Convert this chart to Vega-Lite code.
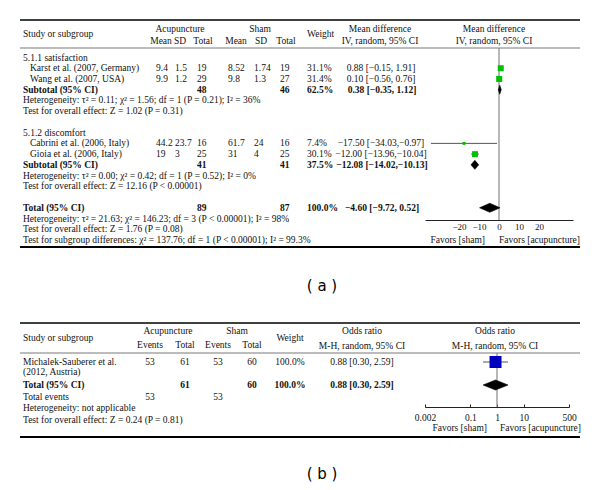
{
"$schema":"https://vega.github.io/schema/vega-lite/v6.json",
"width":600,"height":490,"autosize":"none","padding":0,"background":"white",
"config":{"view":{"stroke":null},"text":{"font":"Liberation Serif","fontSize":9.5,"color":"#111","baseline":"middle"},"axis":{"labelFont":"Liberation Serif","labelFontSize":9.5,"labelColor":"#111","grid":false}},
"datasets":{
"one":[{}],
"a_studies":[
{"line":2,"name":"Karst et al. (2007, Germany)","aMean":"9.4","aSD":"1.5","aN":"19","sMean":"8.52","sSD":"1.74","sN":"19","wt":"31.1%","ci":"0.88 [−0.15, 1.91]","w":31.1,"est":0.88,"lo":-0.15,"hi":1.91},
{"line":3,"name":"Wang et al. (2007, USA)","aMean":"9.9","aSD":"1.2","aN":"29","sMean":"9.8","sSD":"1.3","sN":"27","wt":"31.4%","ci":"0.10 [−0.56, 0.76]","w":31.4,"est":0.10,"lo":-0.56,"hi":0.76},
{"line":9,"name":"Cabrini et al. (2006, Italy)","aMean":"44.2","aSD":"23.7","aN":"16","sMean":"61.7","sSD":"24","sN":"16","wt":"7.4%","ci":"−17.50 [−34.03,−0.97]","w":7.4,"est":-17.5,"lo":-34.03,"hi":-0.97},
{"line":10,"name":"Gioia et al. (2006, Italy)","aMean":"19","aSD":"3","aN":"25","sMean":"31","sSD":"4","sN":"25","wt":"30.1%","ci":"−12.00 [−13.96,−10.04]","w":30.1,"est":-12,"lo":-13.96,"hi":-10.04}
],
"a_pooled":[
{"line":4,"name":"Subtotal (95% CI)","aN":"48","sN":"46","wt":"62.5%","ci":"0.38 [−0.35, 1.12]","est":0.38,"lo":-0.35,"hi":1.12},
{"line":11,"name":"Subtotal (95% CI)","aN":"41","sN":"41","wt":"37.5%","ci":"−12.08 [−14.02,−10.13]","est":-12.08,"lo":-14.02,"hi":-10.13},
{"line":15,"name":"Total (95% CI)","aN":"89","sN":"87","wt":"100.0%","ci":"−4.60 [−9.72, 0.52]","est":-4.6,"lo":-9.72,"hi":0.52}
],
"a_notes":[
{"line":1,"text":"5.1.1 satisfaction"},
{"line":5,"text":"Heterogeneity: τ² = 0.11; χ² = 1.56; df = 1 (P = 0.21); I² = 36%"},
{"line":6,"text":"Test for overall effect: Z = 1.02 (P = 0.31)"},
{"line":8,"text":"5.1.2 discomfort"},
{"line":12,"text":"Heterogeneity: τ² = 0.00; χ² = 0.42; df = 1 (P = 0.52); I² = 0%"},
{"line":13,"text":"Test for overall effect: Z = 12.16 (P < 0.00001)"},
{"line":16,"text":"Heterogeneity: τ² = 21.63; χ² = 146.23; df = 3 (P < 0.00001); I² = 98%"},
{"line":17,"text":"Test for overall effect: Z = 1.76 (P = 0.08)"},
{"line":18,"text":"Test for subgroup differences: χ² = 137.76; df = 1 (P < 0.00001); I² = 99.3%"}
],
"b_study":[{"line":1,"name":"Michalek-Sauberer et al.","name2":"(2012, Austria)","aE":"53","aN":"61","sE":"53","sN":"60","wt":"100.0%","ci":"0.88 [0.30, 2.59]","w":100,"est":0.88,"lo":0.30,"hi":2.59}],
"b_total":[{"line":3,"name":"Total (95% CI)","aN":"61","sN":"60","wt":"100.0%","ci":"0.88 [0.30, 2.59]","est":0.88,"lo":0.30,"hi":2.59}],
"b_events":[{"line":4,"label":"Total events","aE":"53","sE":"53"}],
"b_notes":[
{"line":5,"text":"Heterogeneity: not applicable"},
{"line":6,"text":"Test for overall effect: Z = 0.24 (P = 0.81)"}
]
},
"resolve":{"scale":{"x":"independent","y":"independent","size":"independent"},"axis":{"x":"independent"}},
"layer":[
{
"encoding":{"y":{"field":"line","type":"quantitative","scale":{"domain":[1,18],"range":[57.5,240],"zero":false,"nice":false},"axis":null}},
"layer":[
{"data":{"name":"one"},"mark":{"type":"rule","color":"#000","strokeWidth":1.5},"encoding":{"x":{"value":20},"x2":{"value":580},"y":{"value":20}}},
{"data":{"name":"one"},"mark":{"type":"rule","color":"#555","strokeWidth":0.8},"encoding":{"x":{"value":20},"x2":{"value":580},"y":{"value":48}}},
{"data":{"name":"one"},"mark":{"type":"rule","color":"#000","strokeWidth":2},"encoding":{"x":{"value":20},"x2":{"value":580},"y":{"value":247}}},
{"data":{"name":"one"},"mark":{"type":"text","align":"left","text":"Study or subgroup"},"encoding":{"x":{"value":23},"y":{"value":34}}},
{"data":{"name":"one"},"mark":{"type":"text","align":"center","text":"Acupuncture"},"encoding":{"x":{"value":180},"y":{"value":29}}},
{"data":{"name":"one"},"mark":{"type":"text","align":"center","text":"Sham"},"encoding":{"x":{"value":260},"y":{"value":29}}},
{"data":{"name":"one"},"mark":{"type":"text","align":"center","text":"Mean"},"encoding":{"x":{"value":161},"y":{"value":41}}},
{"data":{"name":"one"},"mark":{"type":"text","align":"center","text":"SD"},"encoding":{"x":{"value":180},"y":{"value":41}}},
{"data":{"name":"one"},"mark":{"type":"text","align":"center","text":"Total"},"encoding":{"x":{"value":203},"y":{"value":41}}},
{"data":{"name":"one"},"mark":{"type":"text","align":"center","text":"Mean"},"encoding":{"x":{"value":236},"y":{"value":41}}},
{"data":{"name":"one"},"mark":{"type":"text","align":"center","text":"SD"},"encoding":{"x":{"value":261},"y":{"value":41}}},
{"data":{"name":"one"},"mark":{"type":"text","align":"center","text":"Total"},"encoding":{"x":{"value":286},"y":{"value":41}}},
{"data":{"name":"one"},"mark":{"type":"text","align":"left","text":"Weight"},"encoding":{"x":{"value":307},"y":{"value":34}}},
{"data":{"name":"one"},"mark":{"type":"text","align":"center","text":"Mean difference"},"encoding":{"x":{"value":380},"y":{"value":29}}},
{"data":{"name":"one"},"mark":{"type":"text","align":"center","text":"IV, random, 95% CI"},"encoding":{"x":{"value":380},"y":{"value":41}}},
{"data":{"name":"one"},"mark":{"type":"text","align":"center","text":"Mean difference"},"encoding":{"x":{"value":494},"y":{"value":29}}},
{"data":{"name":"one"},"mark":{"type":"text","align":"center","text":"IV, random, 95% CI"},"encoding":{"x":{"value":494},"y":{"value":41}}},
{"data":{"name":"a_studies"},"mark":{"type":"text","align":"left"},"encoding":{"x":{"value":30},"text":{"field":"name","type":"nominal"}}},
{"data":{"name":"a_studies"},"mark":{"type":"text","align":"left"},"encoding":{"x":{"value":156},"text":{"field":"aMean","type":"nominal"}}},
{"data":{"name":"a_studies"},"mark":{"type":"text","align":"left"},"encoding":{"x":{"value":175},"text":{"field":"aSD","type":"nominal"}}},
{"data":{"name":"a_studies"},"mark":{"type":"text","align":"left"},"encoding":{"x":{"value":197},"text":{"field":"aN","type":"nominal"}}},
{"data":{"name":"a_studies"},"mark":{"type":"text","align":"left"},"encoding":{"x":{"value":228},"text":{"field":"sMean","type":"nominal"}}},
{"data":{"name":"a_studies"},"mark":{"type":"text","align":"left"},"encoding":{"x":{"value":254},"text":{"field":"sSD","type":"nominal"}}},
{"data":{"name":"a_studies"},"mark":{"type":"text","align":"left"},"encoding":{"x":{"value":280},"text":{"field":"sN","type":"nominal"}}},
{"data":{"name":"a_studies"},"mark":{"type":"text","align":"left"},"encoding":{"x":{"value":307},"text":{"field":"wt","type":"nominal"}}},
{"data":{"name":"a_studies"},"mark":{"type":"text","align":"center"},"encoding":{"x":{"value":381},"text":{"field":"ci","type":"nominal"}}},
{"data":{"name":"a_pooled"},"mark":{"type":"text","align":"left","fontWeight":"bold"},"encoding":{"x":{"value":23},"text":{"field":"name","type":"nominal"}}},
{"data":{"name":"a_pooled"},"mark":{"type":"text","align":"left","fontWeight":"bold"},"encoding":{"x":{"value":197},"text":{"field":"aN","type":"nominal"}}},
{"data":{"name":"a_pooled"},"mark":{"type":"text","align":"left","fontWeight":"bold"},"encoding":{"x":{"value":280},"text":{"field":"sN","type":"nominal"}}},
{"data":{"name":"a_pooled"},"mark":{"type":"text","align":"left","fontWeight":"bold"},"encoding":{"x":{"value":307},"text":{"field":"wt","type":"nominal"}}},
{"data":{"name":"a_pooled"},"mark":{"type":"text","align":"center","fontWeight":"bold"},"encoding":{"x":{"value":382},"text":{"field":"ci","type":"nominal"}}},
{"data":{"name":"a_notes"},"mark":{"type":"text","align":"left"},"encoding":{"x":{"value":23},"text":{"field":"text","type":"nominal"}}},
{"data":{"name":"one"},"mark":{"type":"rule","color":"#888","strokeWidth":1.2},"encoding":{"x":{"datum":0,"type":"quantitative","scale":{"domain":[-37,37],"range":[425,573],"zero":false,"nice":false},"axis":{"orient":"bottom","offset":-270,"values":[-20,-10,0,10,20],"ticks":false,"tickSize":0,"labelPadding":2,"domainColor":"#222","domainWidth":1,"labelFontSize":9,"labelFlush":false,"labelOverlap":false,"grid":false,"title":null}},"y":{"value":48},"y2":{"value":220}}},
{"data":{"name":"a_studies"},"mark":{"type":"rule","color":"#555","strokeWidth":1},"encoding":{"x":{"field":"lo","type":"quantitative"},"x2":{"field":"hi"}}},
{"data":{"name":"a_studies"},"mark":{"type":"point","shape":"square","filled":true,"color":"#00c000","opacity":1},"encoding":{"x":{"field":"est","type":"quantitative"},"size":{"field":"w","type":"quantitative","scale":{"domain":[0,100],"range":[0,116]},"legend":null}}},
{"data":{"name":"a_pooled"},"transform":[{"fold":["lo","est","hi"],"as":["vertex","xv"]}],"mark":{"type":"area","color":"#000","stroke":"#000","strokeWidth":0.6,"opacity":1,"yOffset":{"expr":"datum.vertex === 'est' ? -4.5 : 0"},"y2Offset":{"expr":"datum.vertex === 'est' ? 4.5 : 0"}},"encoding":{"x":{"field":"xv","type":"quantitative"},"y":{"field":"line","type":"quantitative","stack":null},"y2":{"field":"line"},"detail":{"field":"line","type":"nominal"}}},
{"data":{"name":"one"},"mark":{"type":"text","align":"right","dx":-14,"text":"Favors [sham]"},"encoding":{"x":{"datum":0,"type":"quantitative"},"y":{"value":239.5}}},
{"data":{"name":"one"},"mark":{"type":"text","align":"left","dx":0,"text":"Favors [acupuncture]"},"encoding":{"x":{"datum":0,"type":"quantitative"},"y":{"value":239.5}}},
{"data":{"name":"one"},"mark":{"type":"text","align":"center","font":"DejaVu Sans","fontSize":15,"color":"#000","text":"( a )"},"encoding":{"x":{"value":322},"y":{"value":286}}}
]
},
{
"encoding":{"y":{"field":"line","type":"quantitative","scale":{"domain":[1,6],"range":[362,419.5],"zero":false,"nice":false},"axis":null}},
"layer":[
{"data":{"name":"one"},"mark":{"type":"rule","color":"#000","strokeWidth":1.5},"encoding":{"x":{"value":20},"x2":{"value":580},"y":{"value":323}}},
{"data":{"name":"one"},"mark":{"type":"rule","color":"#555","strokeWidth":0.8},"encoding":{"x":{"value":20},"x2":{"value":580},"y":{"value":353}}},
{"data":{"name":"one"},"mark":{"type":"rule","color":"#000","strokeWidth":2},"encoding":{"x":{"value":20},"x2":{"value":580},"y":{"value":437}}},
{"data":{"name":"one"},"mark":{"type":"text","align":"left","text":"Study or subgroup"},"encoding":{"x":{"value":23},"y":{"value":338}}},
{"data":{"name":"one"},"mark":{"type":"text","align":"center","text":"Acupuncture"},"encoding":{"x":{"value":168},"y":{"value":331}}},
{"data":{"name":"one"},"mark":{"type":"text","align":"center","text":"Sham"},"encoding":{"x":{"value":237},"y":{"value":331}}},
{"data":{"name":"one"},"mark":{"type":"text","align":"center","text":"Events"},"encoding":{"x":{"value":150},"y":{"value":345}}},
{"data":{"name":"one"},"mark":{"type":"text","align":"center","text":"Total"},"encoding":{"x":{"value":185},"y":{"value":345}}},
{"data":{"name":"one"},"mark":{"type":"text","align":"center","text":"Events"},"encoding":{"x":{"value":218},"y":{"value":345}}},
{"data":{"name":"one"},"mark":{"type":"text","align":"center","text":"Total"},"encoding":{"x":{"value":252},"y":{"value":345}}},
{"data":{"name":"one"},"mark":{"type":"text","align":"center","text":"Weight"},"encoding":{"x":{"value":290},"y":{"value":338}}},
{"data":{"name":"one"},"mark":{"type":"text","align":"center","text":"Odds ratio"},"encoding":{"x":{"value":362},"y":{"value":331}}},
{"data":{"name":"one"},"mark":{"type":"text","align":"center","text":"M-H, random, 95% CI"},"encoding":{"x":{"value":362},"y":{"value":346}}},
{"data":{"name":"one"},"mark":{"type":"text","align":"center","text":"Odds ratio"},"encoding":{"x":{"value":495},"y":{"value":331}}},
{"data":{"name":"one"},"mark":{"type":"text","align":"center","text":"M-H, random, 95% CI"},"encoding":{"x":{"value":495},"y":{"value":346}}},
{"data":{"name":"b_study"},"mark":{"type":"text","align":"left"},"encoding":{"x":{"value":23},"text":{"field":"name","type":"nominal"}}},
{"data":{"name":"b_study"},"mark":{"type":"text","align":"left","dy":9.5},"encoding":{"x":{"value":23},"text":{"field":"name2","type":"nominal"}}},
{"data":{"name":"b_study"},"mark":{"type":"text","align":"center"},"encoding":{"x":{"value":150},"text":{"field":"aE","type":"nominal"}}},
{"data":{"name":"b_study"},"mark":{"type":"text","align":"center"},"encoding":{"x":{"value":185},"text":{"field":"aN","type":"nominal"}}},
{"data":{"name":"b_study"},"mark":{"type":"text","align":"center"},"encoding":{"x":{"value":218},"text":{"field":"sE","type":"nominal"}}},
{"data":{"name":"b_study"},"mark":{"type":"text","align":"center"},"encoding":{"x":{"value":252},"text":{"field":"sN","type":"nominal"}}},
{"data":{"name":"b_study"},"mark":{"type":"text","align":"center"},"encoding":{"x":{"value":290},"text":{"field":"wt","type":"nominal"}}},
{"data":{"name":"b_study"},"mark":{"type":"text","align":"center"},"encoding":{"x":{"value":362},"text":{"field":"ci","type":"nominal"}}},
{"data":{"name":"b_total"},"mark":{"type":"text","align":"left","fontWeight":"bold"},"encoding":{"x":{"value":23},"text":{"field":"name","type":"nominal"}}},
{"data":{"name":"b_total"},"mark":{"type":"text","align":"center","fontWeight":"bold"},"encoding":{"x":{"value":185},"text":{"field":"aN","type":"nominal"}}},
{"data":{"name":"b_total"},"mark":{"type":"text","align":"center","fontWeight":"bold"},"encoding":{"x":{"value":252},"text":{"field":"sN","type":"nominal"}}},
{"data":{"name":"b_total"},"mark":{"type":"text","align":"center","fontWeight":"bold"},"encoding":{"x":{"value":290},"text":{"field":"wt","type":"nominal"}}},
{"data":{"name":"b_total"},"mark":{"type":"text","align":"center","fontWeight":"bold"},"encoding":{"x":{"value":362},"text":{"field":"ci","type":"nominal"}}},
{"data":{"name":"b_events"},"mark":{"type":"text","align":"left"},"encoding":{"x":{"value":23},"text":{"field":"label","type":"nominal"}}},
{"data":{"name":"b_events"},"mark":{"type":"text","align":"center"},"encoding":{"x":{"value":150},"text":{"field":"aE","type":"nominal"}}},
{"data":{"name":"b_events"},"mark":{"type":"text","align":"center"},"encoding":{"x":{"value":218},"text":{"field":"sE","type":"nominal"}}},
{"data":{"name":"b_notes"},"mark":{"type":"text","align":"left"},"encoding":{"x":{"value":23},"text":{"field":"text","type":"nominal"}}},
{"data":{"name":"one"},"mark":{"type":"rule","color":"#888","strokeWidth":1.2},"encoding":{"x":{"datum":1,"type":"quantitative","scale":{"type":"log","domain":[0.002,500],"range":[425,569],"nice":false},"axis":{"orient":"bottom","offset":-83,"values":[0.002,0.1,1,10,500],"format":"~g","tickSize":-3,"tickColor":"#222","labelPadding":8,"domainColor":"#222","labelFontSize":9.5,"labelFlush":false,"labelOverlap":false,"grid":false,"title":null}},"y":{"value":353},"y2":{"value":407}}},
{"data":{"name":"b_study"},"mark":{"type":"rule","color":"#555","strokeWidth":1},"encoding":{"x":{"field":"lo","type":"quantitative"},"x2":{"field":"hi"}}},
{"data":{"name":"b_study"},"mark":{"type":"point","shape":"square","filled":true,"color":"#0000c0","opacity":1},"encoding":{"x":{"field":"est","type":"quantitative"},"size":{"field":"w","type":"quantitative","scale":{"domain":[0,100],"range":[0,144]},"legend":null}}},
{"data":{"name":"b_total"},"transform":[{"fold":["lo","est","hi"],"as":["vertex","xv"]}],"mark":{"type":"area","color":"#000","stroke":"#000","strokeWidth":0.6,"opacity":1,"yOffset":{"expr":"datum.vertex === 'est' ? -5 : 0"},"y2Offset":{"expr":"datum.vertex === 'est' ? 5 : 0"}},"encoding":{"x":{"field":"xv","type":"quantitative"},"y":{"field":"line","type":"quantitative","stack":null},"y2":{"field":"line"},"detail":{"field":"line","type":"nominal"}}},
{"data":{"name":"one"},"mark":{"type":"text","align":"right","dx":-10,"text":"Favors [sham]"},"encoding":{"x":{"datum":1,"type":"quantitative"},"y":{"value":428}}},
{"data":{"name":"one"},"mark":{"type":"text","align":"left","dx":3,"text":"Favors [acupuncture]"},"encoding":{"x":{"datum":1,"type":"quantitative"},"y":{"value":428}}},
{"data":{"name":"one"},"mark":{"type":"text","align":"center","font":"DejaVu Sans","fontSize":15,"color":"#000","text":"( b )"},"encoding":{"x":{"value":322},"y":{"value":474}}}
]
}
]
}
